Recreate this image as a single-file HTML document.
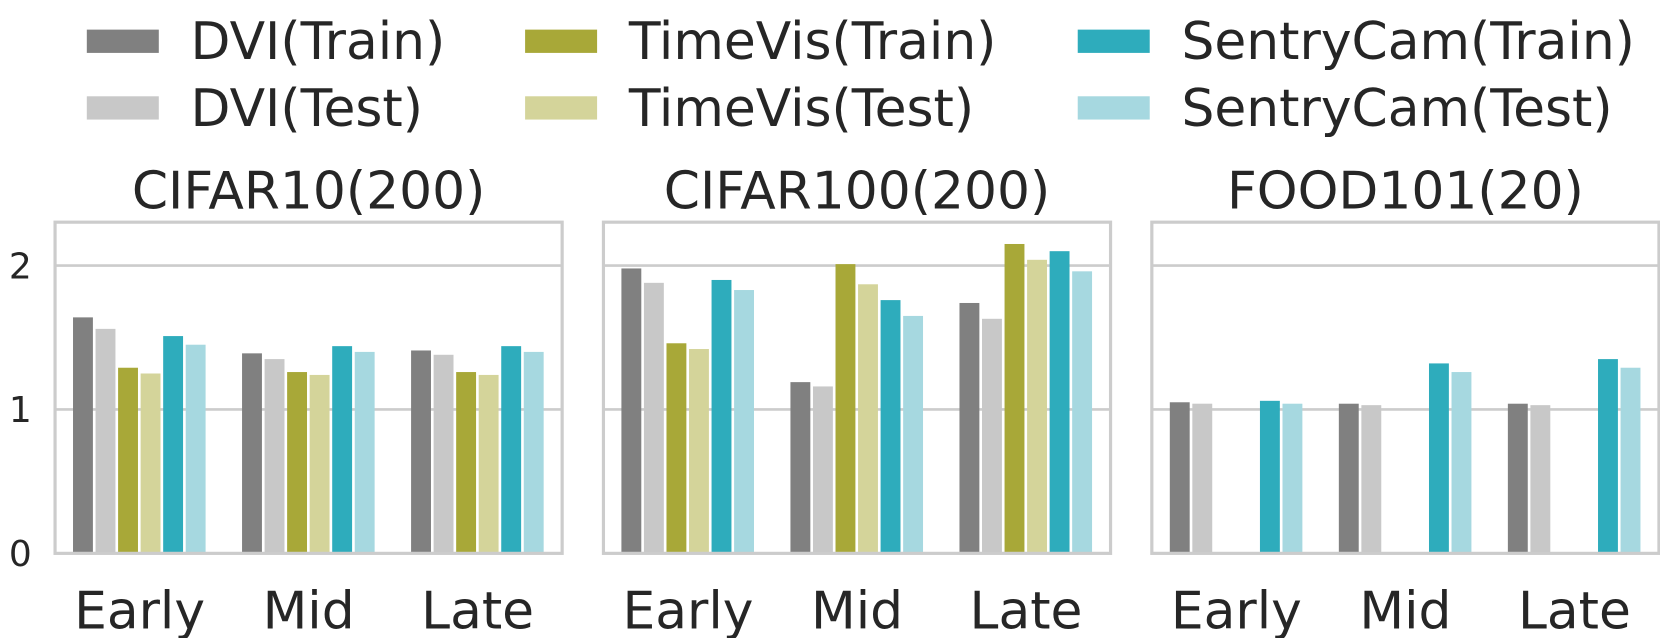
<!DOCTYPE html>
<html><head><meta charset="utf-8"><style>
body{margin:0;background:#fff;overflow:hidden;}
svg text{font-family:"DejaVu Sans","Liberation Sans",sans-serif;fill:#262626;}
</style></head><body>
<svg id="chart" width="1660" height="638" viewBox="0 0 1568 603" preserveAspectRatio="none" xmlns="http://www.w3.org/2000/svg">
<g id="legend"></g>
<g id="panels"></g>
</svg>
<script>
const datasets = ["CIFAR10(200)", "CIFAR100(200)", "FOOD101(20)"];
const stages = ["Early", "Mid", "Late"];
const seriesNames = ["DVI(Train)", "DVI(Test)", "TimeVis(Train)", "TimeVis(Test)", "SentryCam(Train)", "SentryCam(Test)"];
const colors = ["#808080", "#c8c8c8", "#a8a838", "#d4d49a", "#2eacbc", "#a6d8e0"];
const yTicks = [0, 1, 2];
// values[dataset][stage][series]
const cifar10 = [[1.64,1.56,1.29,1.25,1.51,1.45],[1.39,1.35,1.26,1.24,1.44,1.40],[1.41,1.38,1.26,1.24,1.44,1.40]];
const cifar100 = [[1.98,1.88,1.46,1.42,1.90,1.83],[1.19,1.16,2.01,1.87,1.76,1.65],[1.74,1.63,2.15,2.04,2.10,1.96]];
const food101 = [[1.05,1.04,null,null,1.06,1.04],[1.04,1.03,null,null,1.32,1.26],[1.04,1.03,null,null,1.35,1.29]];
const allValues = [cifar10, cifar100, food101];

const NS = "http://www.w3.org/2000/svg";
function mk(tag, attrs, parent){const e=document.createElementNS(NS,tag);for(const k in attrs)e.setAttribute(k,attrs[k]);parent.appendChild(e);return e;}

const leg = document.getElementById('legend');
const legX = [82, 496, 1018], legY = [39, 102];
seriesNames.forEach((n,i)=>{
  const col = Math.floor(i/2), row = i%2;
  const r = mk('rect',{x:legX[col],y:legY[row]-11,width:68,height:22,fill:colors[i]},leg);
  
  
  const t = mk('text',{x:legX[col]+98,y:legY[row]+17,'font-size':49},leg);
  t.textContent = n;
  
  
});

const panelsG = document.getElementById('panels');
const panelX = [52, 570, 1088], panelW = 479, plotTop = 210, plotBottom = 523;
const yMax = (plotBottom-plotTop)/136;
function yScale(v){return plotBottom - v/yMax*(plotBottom-plotTop);}
datasets.forEach((ds,p)=>{
  const g = mk('g',{},panelsG);
  
  
  const x0 = panelX[p];
  const gw = panelW/3, bw = gw*0.8/6;
  function xScale(stage, s){return x0 + gw*stage + gw*0.1 + bw*s;}
  yTicks.forEach(t=>{
    if(t>0){const l=mk('line',{x1:x0,x2:x0+panelW,y1:yScale(t),y2:yScale(t),stroke:'#cccccc','stroke-width':2.5},g);
      
      }
    if(p===0){const tt=mk('text',{x:x0-22,y:yScale(t)+12,'font-size':34,'text-anchor':'end'},g);tt.textContent=t;
      
      }
  });
  const vals = allValues[p];
  stages.forEach((st,si)=>{
    vals[si].forEach((v,k)=>{
      if(v===null) return;
      const b=mk('rect',{x:xScale(si,k)+1,y:yScale(v),width:bw-2.5,height:plotBottom-yScale(v),fill:colors[k]},g);
      
      
    });
    const lt=mk('text',{x:x0+gw*(si+0.5),y:594,'font-size':49,'text-anchor':'middle'},g);
    lt.textContent=st;
    
    
  });
  const fr=mk('rect',{x:x0,y:plotTop,width:panelW,height:plotBottom-plotTop,fill:'none',stroke:'#cccccc','stroke-width':3},g);
  
  
  const tl=mk('text',{x:x0+panelW/2,y:197,'font-size':49,'text-anchor':'middle'},g);
  tl.textContent=ds;
  
  
});
</script>
</body></html>
